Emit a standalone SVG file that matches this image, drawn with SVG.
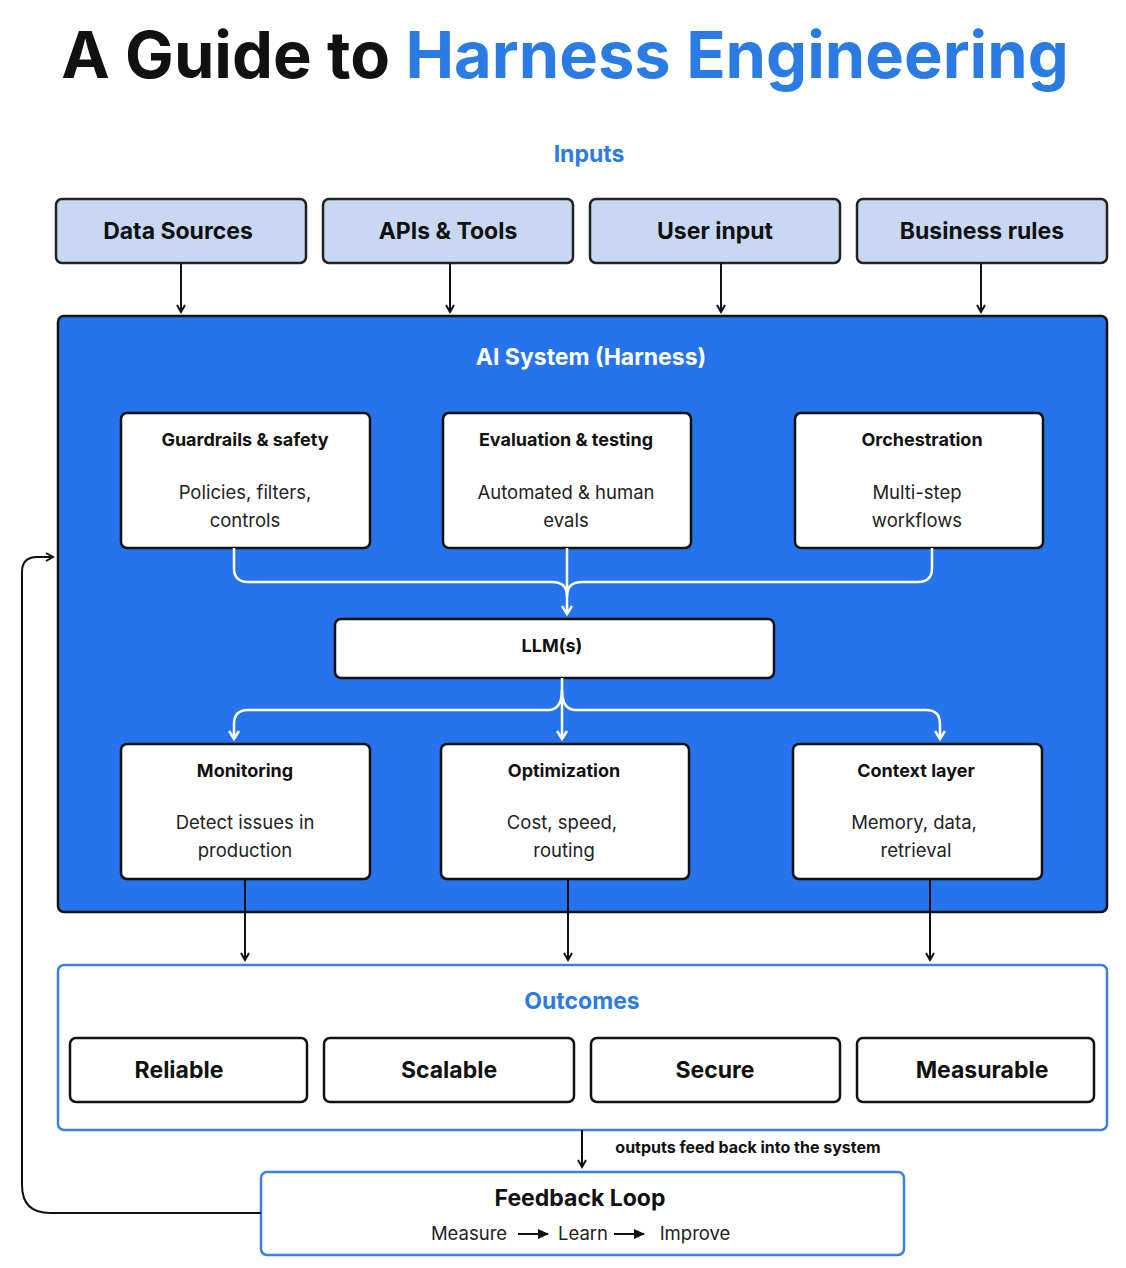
<svg xmlns="http://www.w3.org/2000/svg" width="1126" height="1268" viewBox="0 0 1126 1268">
<defs>
<marker id="ab" markerWidth="10" markerHeight="10" refX="8" refY="5" orient="auto" markerUnits="userSpaceOnUse"><path d="M1,1 L8,5 L1,9" fill="none" stroke="#111" stroke-width="2"/></marker>
<marker id="aw" markerWidth="12" markerHeight="12" refX="9" refY="6" orient="auto" markerUnits="userSpaceOnUse"><path d="M1,1 L9,6 L1,11" fill="none" stroke="#fff" stroke-width="2.5"/></marker>
<marker id="as" markerWidth="12" markerHeight="10" refX="10" refY="5" orient="auto" markerUnits="userSpaceOnUse"><path d="M0,0 L11,5 L0,10 Z" fill="#111"/></marker>
</defs>
<style>
text{font-family:Inter,"Liberation Sans",sans-serif;text-anchor:middle}
.in{fill:#c9d8f2;stroke:#222;stroke-width:2.5}
.wb{fill:#fff;stroke:#111;stroke-width:2.5}
.ob{fill:#fff;stroke:#3b82e0;stroke-width:2.5}
.h{font-size:23px;font-weight:700;fill:#111}
.t{font-size:18px;font-weight:700;fill:#111}
.d{font-size:18.5px;fill:#222}
.bl{fill:#2a7be4}
.ck{fill:none;stroke:#111;stroke-width:2}
.cw{fill:none;stroke:#fff;stroke-width:2.5}
</style>
<rect width="1126" height="1268" fill="#fff"/>
<text x="565" y="78" style="font-size:65px;font-weight:700;fill:#111">A Guide to <tspan class="bl">Harness Engineering</tspan></text>
<text x="589" y="162" class="h bl">Inputs</text>
<g id="n-data"><rect x="56" y="199" width="250" height="64" rx="6" class="in"/><text x="178" y="239" class="h">Data Sources</text></g>
<g id="n-apis"><rect x="323" y="199" width="250" height="64" rx="6" class="in"/><text x="448" y="239" class="h">APIs &amp; Tools</text></g>
<g id="n-user"><rect x="590" y="199" width="250" height="64" rx="6" class="in"/><text x="715" y="239" class="h">User input</text></g>
<g id="n-rules"><rect x="857" y="199" width="250" height="64" rx="6" class="in"/><text x="982" y="239" class="h">Business rules</text></g>
<g id="n-system"><rect x="58" y="316" width="1049" height="596" rx="6" fill="#2673eb" stroke="#111" stroke-width="2.5"/><text x="591" y="365" class="h" style="fill:#fff">AI System (Harness)</text></g>
<g id="n-guard"><rect x="121" y="413" width="249" height="135" rx="6" class="wb"/><text x="245" y="446" class="t">Guardrails &amp; safety</text><text x="245" y="499" class="d">Policies, filters,</text><text x="245" y="527" class="d">controls</text></g>
<g id="n-eval"><rect x="443" y="413" width="248" height="135" rx="6" class="wb"/><text x="566" y="446" class="t">Evaluation &amp; testing</text><text x="566" y="499" class="d">Automated &amp; human</text><text x="566" y="527" class="d">evals</text></g>
<g id="n-orch"><rect x="795" y="413" width="248" height="135" rx="6" class="wb"/><text x="922" y="446" class="t">Orchestration</text><text x="917" y="499" class="d">Multi-step</text><text x="917" y="527" class="d">workflows</text></g>
<g id="n-llm"><rect x="335" y="619" width="439" height="59" rx="6" class="wb"/><text x="552" y="652" class="t">LLM(s)</text></g>
<g id="n-mon"><rect x="121" y="744" width="249" height="135" rx="6" class="wb"/><text x="245" y="777" class="t">Monitoring</text><text x="245" y="829" class="d">Detect issues in</text><text x="245" y="857" class="d">production</text></g>
<g id="n-opt"><rect x="441" y="744" width="248" height="135" rx="6" class="wb"/><text x="564" y="777" class="t">Optimization</text><text x="562" y="829" class="d">Cost, speed,</text><text x="564" y="857" class="d">routing</text></g>
<g id="n-ctx"><rect x="793" y="744" width="249" height="135" rx="6" class="wb"/><text x="916" y="777" class="t">Context layer</text><text x="914" y="829" class="d">Memory, data,</text><text x="916" y="857" class="d">retrieval</text></g>
<g id="n-outcomes"><rect x="58" y="965" width="1049" height="165" rx="6" class="ob"/><text x="582" y="1009" class="h bl">Outcomes</text></g>
<g id="n-rel"><rect x="70" y="1038" width="237" height="64" rx="6" class="wb"/><text x="179" y="1078" class="h">Reliable</text></g>
<g id="n-sca"><rect x="324" y="1038" width="250" height="64" rx="6" class="wb"/><text x="449" y="1078" class="h">Scalable</text></g>
<g id="n-sec"><rect x="591" y="1038" width="249" height="64" rx="6" class="wb"/><text x="715" y="1078" class="h">Secure</text></g>
<g id="n-mea"><rect x="857" y="1038" width="237" height="64" rx="6" class="wb"/><text x="982" y="1078" class="h">Measurable</text></g>
<g id="n-feedback"><rect x="261" y="1172" width="643" height="83" rx="6" class="ob"/><text x="580" y="1206" class="h">Feedback Loop</text>
<text x="469" y="1240" class="d">Measure</text><text x="583" y="1240" class="d">Learn</text><text x="695" y="1240" class="d">Improve</text></g>
<g id="connectors">
<path d="M181 263V312" class="ck" marker-end="url(#ab)"/><path d="M450 263V312" class="ck" marker-end="url(#ab)"/><path d="M721 263V312" class="ck" marker-end="url(#ab)"/><path d="M981 263V312" class="ck" marker-end="url(#ab)"/>
<path d="M234 548V568Q234 582 248 582H552Q567 582 567 596" class="cw"/>
<path d="M932 548V568Q932 582 918 582H582Q567 582 567 596" class="cw"/>
<path d="M567 548V614" class="cw" marker-end="url(#aw)"/>
<path d="M562 678V739" class="cw" marker-end="url(#aw)"/>
<path d="M562 690Q562 710 548 710H248Q234 710 234 724V739" class="cw" marker-end="url(#aw)"/>
<path d="M562 690Q562 710 576 710H926Q940 710 940 724V739" class="cw" marker-end="url(#aw)"/>
<path d="M245 879V960" class="ck" marker-end="url(#ab)"/>
<path d="M568 879V960" class="ck" marker-end="url(#ab)"/>
<path d="M930 879V960" class="ck" marker-end="url(#ab)"/>
<path d="M582 1130V1167" class="ck" marker-end="url(#ab)"/>
<path d="M261 1213H50Q22 1213 22 1185V572Q22 557 37 557H53" class="ck" marker-end="url(#ab)"/>
<path d="M518 1234H548" stroke="#111" stroke-width="2" marker-end="url(#as)"/>
<path d="M614 1234H644" stroke="#111" stroke-width="2" marker-end="url(#as)"/>
</g>
<text x="748" y="1153" style="font-size:16px;font-weight:700;fill:#111">outputs feed back into the system</text>
</svg>
